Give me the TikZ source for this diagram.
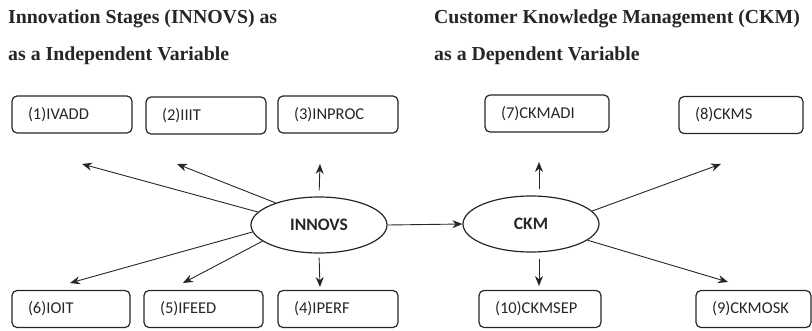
\documentclass[tikz,border=0pt]{standalone}
\usepackage{fontspec}
\setmainfont{Liberation Serif}
\newfontfamily\boxfont{Carlito}
\usetikzlibrary{shapes.geometric,arrows.meta}
\definecolor{ink}{HTML}{262626}
\tikzset{
  title/.style={anchor=base west, inner sep=0pt, text=ink,
    font=\fontsize{19.8}{22}\selectfont\bfseries},
  varbox/.style={draw=ink, line width=1.2pt, rounded corners=5pt,
    minimum height=37pt, inner xsep=16pt, inner ysep=0pt,
    text width=#1, align=left, text=ink,
    font=\boxfont\fontsize{16.5}{18}\selectfont},
  varbox/.default=88pt,
  construct/.style={ellipse, draw=ink, line width=1.2pt,
    minimum width=136pt, minimum height=56pt, inner sep=0pt, text=ink,
    font=\boxfont\bfseries\fontsize{17.5}{19}\selectfont},
  arr/.style={draw=ink, line width=0.9pt, -{Stealth[length=10pt,width=8pt]}}
}
\begin{document}
\begin{tikzpicture}[x=1pt,y=-1pt]
\useasboundingbox (0,0) rectangle (812,330);

% headings
\node[title] (h1) at (8,23) {Innovation Stages (INNOVS) as};
\node[title] (h2) at (8,60) {as a Independent Variable};
\node[title] (h3) at (434,23) {Customer Knowledge Management (CKM)};
\node[title] (h4) at (434,60) {as a Dependent Variable};

% latent constructs
\node[construct] (innovs) at (319,225) {INNOVS};
\node[construct] (ckm) at (531,224) {CKM};

% indicator boxes
\node[varbox] (b1) at (72,114.5) {(1)IVADD};
\node[varbox] (b2) at (206,115.5) {(2)IIIT};
\node[varbox] (b3) at (338,114.5) {(3)INPROC};
\node[varbox=86pt] (b6) at (71,309) {(6)IOIT};
\node[varbox=87pt] (b5) at (203.5,309) {(5)IFEED};
\node[varbox] (b4) at (338,309) {(4)IPERF};
\node[varbox=92pt] (b7) at (547,113.5) {(7)CKMADI};
\node[varbox=92pt] (b8) at (741,115) {(8)CKMS};
\node[varbox=90pt] (b10) at (540,309) {(10)CKMSEP};
\node[varbox=83pt] (b9) at (753.5,309) {(9)CKMOSK};

% arrow ends
\coordinate (t1) at (82,164);
\coordinate (t2) at (177,164);
\coordinate (t3) at (320,164);
\coordinate (t4) at (320,287);
\coordinate (t5) at (183,283);
\coordinate (t6) at (70,283);
\coordinate (t7) at (539,162);
\coordinate (t8) at (721,164);
\coordinate (t9) at (728,282);
\coordinate (t10) at (539,286);

% connectors
\draw[arr] (innovs.168) -- (t1);
\draw[arr] (innovs.153) -- (t2);
\draw[arr, shorten <=6pt] (innovs.north) -- (t3);
\draw[arr, shorten <=4pt] (innovs.south) -- (t4);
\draw[arr] (innovs.196) -- (t5);
\draw[arr] (innovs.186) -- (t6);
\draw[arr] (innovs.east) -- (ckm.west);
\draw[arr, shorten <=6pt] ([xshift=8pt]ckm.north) -- (t7);
\draw[arr, shorten <=6pt] ([xshift=8pt]ckm.south) -- (t10);
\draw[arr] (ckm.12) -- (t8);
\draw[arr] (ckm.-16) -- (t9);
\end{tikzpicture}
\end{document}
